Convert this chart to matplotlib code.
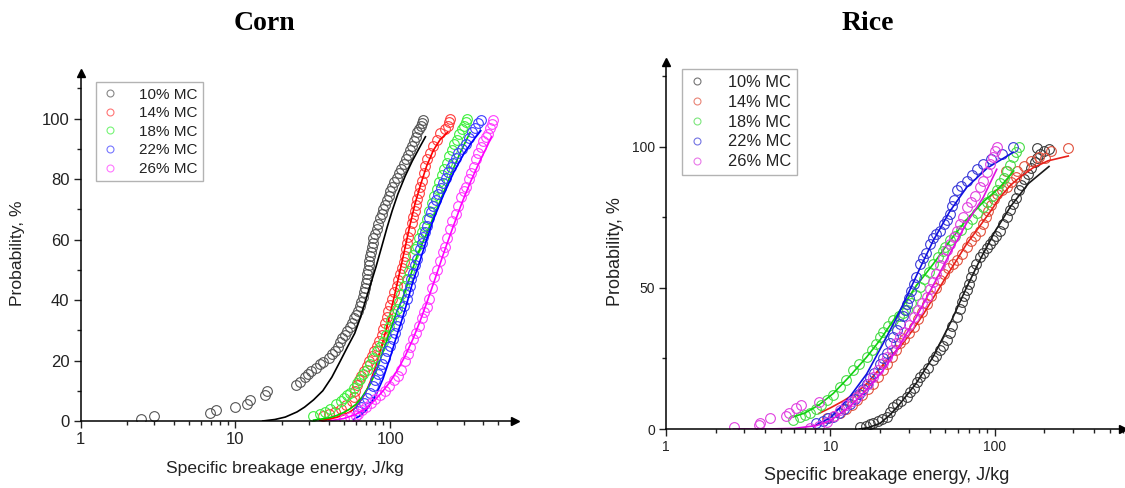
import matplotlib.pyplot as plt
from matplotlib.lines import Line2D
from matplotlib.ticker import FixedLocator, LogLocator, MultipleLocator, NullFormatter

plt.rcParams['font.family'] = ['Liberation Sans', 'DejaVu Sans']

labels = ["10% MC", "14% MC", "18% MC", "22% MC", "26% MC"]

# ---- Corn: measured points (energy J/kg, probability %) ----
corn_10 = [(2.45, 0.5), (3.0, 1.5), (6.9, 2.6), (7.5, 3.5), (10, 4.6), (11.9, 5.7), (12.5, 6.8),
           (15.5, 8.5), (16, 10), (24.5, 11.8), (26, 13), (28, 14.5), (29.5, 15.7), (31, 16.7),
           (33, 17.5), (35, 18.8), (37, 19.6), (40, 20.8), (42, 22), (44, 23.2), (46, 24.5),
           (47.5, 26), (49, 27.5), (51, 28.5), (53, 29.8), (55, 31.2), (56.5, 32.5), (58, 34),
           (60, 35), (62, 36.5), (63.5, 38), (65, 39.5), (66.5, 41), (67.5, 42.5), (68.5, 44),
           (69.5, 45.5), (70.5, 47), (71, 48.5), (72, 50), (72.5, 51.5), (73.5, 53), (74, 54.5),
           (75, 56), (76, 57.5), (77, 59), (78, 60.5), (80, 62), (82, 63.5), (84, 65), (86, 67),
           (88, 68.5), (90, 70), (92, 71.5), (95, 73), (98, 74.5), (100, 76), (103, 77.5),
           (106, 79), (110, 80.5), (114, 82), (118, 83.5), (122, 85), (126, 86.5), (130, 88),
           (134, 89.5), (138, 91), (142, 92.5), (146, 94), (150, 95.5), (154, 96.5), (158, 97.5),
           (161, 98.5), (164, 99.7)]
corn_14 = [(37, 1.5), (40, 2.2), (44, 3), (48, 4), (52, 5.2), (56.5, 6.6), (58, 8), (59.5, 10),
           (61, 12), (63, 13.5), (65, 15), (67.5, 16.5), (70.5, 18.2), (73, 20), (76, 21.5),
           (79, 23), (82, 24.8), (85, 26.5), (88, 28.5), (90.5, 30.3), (93, 32.5), (95, 34.5),
           (97, 36.5), (100, 38.5), (103, 40.5), (106, 42.5), (110, 44.6), (113, 46.5),
           (116, 48.5), (120, 50.5), (122, 52.5), (124, 54.5), (126, 57), (128, 59), (131, 61),
           (134, 63), (138, 65.5), (141, 67.5), (144, 69.5), (147, 71.5), (150, 73.5),
           (153, 75.5), (157, 77.5), (161, 79.5), (165, 82), (169, 84.5), (173, 86.5),
           (180, 88.5), (190, 91), (200, 93), (210, 95.4), (225, 96.5), (235, 97.5),
           (240, 98.8), (245, 99.8)]
corn_18 = [(31.9, 1.5), (35, 2.2), (38, 3), (41, 4), (45, 5.5), (48, 6.5), (50, 7.5), (53, 8.5),
           (55, 9.4), (58, 11), (61, 12.5), (64, 14), (67, 15.5), (70.6, 17), (74, 19), (78, 21),
           (82, 23), (86, 24.5), (90.4, 26), (94, 28.5), (98, 31), (102, 33.5), (106, 35.5),
           (110, 37), (114, 39.5), (118, 42), (122, 44.5), (128, 47), (132, 49.5), (136, 52),
           (141, 55), (145, 57), (149, 58), (154, 60.5), (160, 62.5), (166, 64.5), (172, 66.7),
           (179, 69.5), (186, 72), (193, 74.5), (200, 76.6), (208, 79), (216, 81.5), (224, 83.5),
           (232, 85.4), (240, 87.5), (250, 89.5), (260, 91.5), (269, 93), (280, 95), (292, 96.5),
           (300, 97.5), (307, 98.8), (313, 99.8)]
corn_22 = [(62.3, 3.3), (65, 4.5), (68, 6), (71, 7.5), (74, 9.4), (77, 11.5), (80, 13.5),
           (83, 15.5), (86, 17), (89, 19), (92, 21), (96, 23), (100, 24.8), (104, 27), (107, 29),
           (110, 31.4), (114, 33.5), (118, 36), (122, 38), (128, 40.2), (131, 42.5), (134, 44.5),
           (137, 47), (140.5, 49), (144, 51.5), (149, 53.5), (156, 56.8), (160, 59), (164, 61),
           (168, 62.5), (172, 64.5), (178, 67), (184, 69), (190, 71), (197, 73), (205, 75),
           (212, 77), (220, 78.8), (228, 80.5), (237, 82.5), (246, 84), (256, 85.4), (265, 87),
           (275, 88.5), (290, 90), (311, 91.7), (325, 93.5), (340, 95.5), (355, 97), (370, 98.5),
           (385, 99.7)]
corn_26 = [(50.4, 0.5), (55, 1.2), (60, 1.8), (62, 2.4), (66, 3.5), (70, 4.5), (75, 6), (80, 7.2),
           (86, 8.5), (92, 10), (98, 11.5), (106, 13.4), (112, 15), (118, 17), (125, 20),
           (130, 22), (135, 24.5), (140, 27), (147, 29), (153, 31.5), (160, 34), (166, 36),
           (172, 37.7), (178, 40.5), (185, 44), (192, 47.6), (200, 50), (210, 53), (218, 56),
           (226, 57.6), (234, 60.5), (242, 63.5), (252, 66), (265, 68.6), (275, 71), (288, 74),
           (300, 76), (311, 77.4), (322, 80), (335, 82), (347, 84), (360, 86.5), (372, 88.5),
           (385, 90.6), (400, 92.5), (415, 94), (428, 95), (440, 97), (452, 98.2), (465, 99.7)]

# ---- Corn: fitted curves ----
corn_10_fit = [(15, 0), (18, 0.5), (21, 1.3), (25, 3), (28, 4.6), (32, 7), (36.7, 10), (42, 14.5),
               (47.8, 20), (53, 24.5), (59, 29), (64, 34), (69.5, 40), (75, 45.5), (81, 51),
               (88, 57.5), (95.5, 64), (103, 69.5), (112, 75), (125, 81), (139, 86), (155, 90.5),
               (169, 94)]
corn_14_fit = [(35, 0.2), (40, 0.6), (45, 1.2), (50, 2), (55, 3), (60, 4.5), (66, 7.5), (70, 9.8),
               (74, 12.7), (80, 17.5), (86, 22.6), (95, 31), (105, 40), (115, 49), (125, 57.5),
               (134.5, 65), (145, 72), (158, 78.5), (172, 84.3), (190, 89.5), (210, 93),
               (235, 95.5)]
corn_18_fit = [(32, 0.3), (40, 1), (45, 1.8), (50, 2.8), (55, 4), (60, 5.5), (66, 8), (74, 12),
               (82, 17), (90, 23), (100, 30), (110, 36), (121, 41), (135, 48), (150, 55),
               (172, 62), (200, 70), (244, 81), (285, 89), (328, 95.4)]
corn_22_fit = [(58, 0.5), (63, 1.5), (70, 3.5), (80, 8), (90, 14), (100, 21), (110, 28), (120, 34),
               (130, 40), (140, 46), (156, 53), (172, 60), (190, 66.5), (220, 74.5), (256, 82),
               (300, 88.5), (340, 92.5), (385, 96)]
corn_26_fit = [(40, 0), (50, 0.8), (60, 2.2), (70, 4.2), (80, 7), (90, 10), (100, 13), (112, 17),
               (125, 21.5), (140, 27), (156, 33), (172, 39), (192, 46), (220, 55), (250, 63),
               (290, 72), (330, 79), (380, 86), (420, 90.5), (452, 94)]

# ---- Rice: measured points ----
rice_10 = [(15.1, 0.8), (16.5, 1.2), (17.5, 1.6), (18.2, 2), (19.5, 2.8), (20.5, 3.5), (22, 4.3),
           (23, 6), (24.1, 7.9), (25.5, 9), (27, 10), (29, 11.4), (30.5, 13), (32, 14.5),
           (33.5, 16.5), (35, 18.5), (37, 20), (39, 21.5), (42.2, 24.4), (44, 26), (46, 28),
           (48, 29.5), (50.8, 31.4), (53, 34), (55, 36.5), (58.5, 39.7), (61, 42.5), (63, 45),
           (65, 47), (67.3, 49.1), (69.5, 51.5), (71.5, 54), (73.8, 56.2), (77, 58.5), (81, 60.9),
           (85, 62.5), (89, 64), (93.3, 65.6), (97, 67), (101, 68.5), (107, 70.3), (112, 72.5),
           (118, 75), (123, 77.5), (129, 79.8), (134, 82), (139, 84.5), (143, 86.5), (150, 88.5),
           (158, 90.5), (166, 92.5), (175, 94.5), (181, 96), (188, 97.5), (181, 99.6),
           (200, 98.5), (213, 99.3)]
rice_14 = [(9.5, 3.8), (10.5, 4.5), (11.4, 5.5), (12.5, 7), (13.5, 8.5), (14.4, 10.2), (15.5, 12),
           (16.8, 14), (18.2, 16.1), (19.5, 18.5), (20.8, 21), (22, 23.2), (23.5, 25.5), (25, 28),
           (26.5, 30.3), (28, 32), (30, 34), (32, 36.1), (34, 39), (36, 41.5), (38.5, 44.4),
           (41, 47), (43.5, 50), (46.4, 52.7), (49, 55), (52, 57), (55.7, 58.5), (59, 60),
           (63, 62), (67.3, 64.4), (71, 66.5), (76, 68.5), (81, 70.3), (85, 72.5), (88, 75),
           (91, 77.4), (95, 79.5), (99, 81.5), (102.5, 83.3), (110, 84.5), (118, 85.6),
           (126, 87.5), (135, 89.2), (117, 91.4), (136, 91.4), (150, 93), (166, 95), (185, 96.5),
           (202, 96), (218, 98.5), (279, 99.4)]
rice_18 = [(5.9, 3.2), (6.5, 4.2), (7, 4.8), (7.5, 5.5), (8.2, 7), (8.8, 8.5), (9.5, 10.2),
           (10.3, 12), (11.4, 15), (12.5, 17.5), (13.8, 20.8), (15, 23), (16.6, 25.5), (18, 28),
           (19, 30), (20, 32.6), (21, 34.5), (22.5, 36.5), (24.1, 38.5), (26, 40), (27.5, 41),
           (29, 42), (31, 44.5), (33, 47.5), (35, 50.3), (37, 53), (39.5, 55.5), (42.2, 58.5),
           (45, 61), (48, 63), (50, 64.5), (53, 66.8), (57, 68.5), (62, 70.5), (67.3, 72.7),
           (72, 74.5), (78, 76.5), (84.8, 78.5), (90, 80.5), (96, 82.5), (102.5, 84.5),
           (108, 87), (113, 89), (118, 91.5), (123, 93.5), (129, 96.2), (134, 98), (139, 99.8)]
rice_22 = [(8.2, 2), (9, 3), (9.7, 3.8), (10.4, 4.3), (11.2, 5.5), (12, 7), (13.1, 9), (14, 10.5),
           (15, 12.5), (15.8, 14), (16.6, 16.1), (17.5, 18), (18.5, 20), (20, 23.2), (21, 25),
           (22, 27), (23, 30.3), (24, 32.5), (25.2, 35), (26.5, 37.3), (27.5, 40), (28.3, 42),
           (29, 44.4), (30, 46.5), (31, 49), (32, 51.5), (33, 54), (35, 58.5), (36.5, 60.5),
           (38, 62.5), (40, 65.6), (42, 67.5), (44, 69), (46.4, 70.3), (49, 72.5), (51, 74),
           (53, 76.2), (55, 79), (56.5, 81), (58.5, 84.5), (62, 86), (67.3, 88), (72, 90),
           (78, 92), (84.8, 93.9), (95, 95.5), (110, 97.5), (129, 99.8)]
rice_26 = [(2.6, 0.6), (3.7, 1.4), (3.75, 2), (4.3, 3.8), (5.4, 4.7), (5.6, 5.5), (6.2, 7.3),
           (6.6, 8.5), (8.5, 9.6), (7.5, 0.5), (8.5, 1.2), (9.5, 2.5), (10.5, 4.5), (11.4, 6.7),
           (12.5, 8.5), (13.5, 10), (14.4, 11.4), (15.5, 13.5), (16.8, 16), (18.2, 18.5),
           (19.5, 21), (20.8, 23.5), (22, 25.5), (23.5, 28), (25, 30.5), (26.5, 32.6), (28, 34.5),
           (30, 37), (32, 39.7), (34, 42), (36, 44.5), (38.5, 46.7), (40, 49.5), (42, 52),
           (44, 55), (46, 58), (48, 60.5), (50.8, 63.3), (53, 65.5), (56, 68), (58.5, 70.3),
           (61, 72.5), (64, 75), (67.3, 78.5), (71, 80.5), (76, 82.5), (81, 85.6), (85, 88),
           (89, 91), (93.3, 93.9), (97, 96.5), (100, 98.5), (102.5, 99.8)]

# ---- Rice: fitted curves ----
rice_10_fit = [(15, 0), (17, 0.5), (20, 2), (23, 5), (26.5, 9), (33, 16), (42, 25.5), (54, 38),
               (67, 50), (82, 60.5), (100, 70), (125, 79), (160, 87), (213, 93)]
rice_14_fit = [(8.5, 5.5), (10, 7.5), (12, 10), (14.5, 13), (16.6, 16.1), (20, 21.5), (23, 25.5),
               (26.5, 29), (32, 35.5), (37, 41), (42.2, 46.5), (50, 53.5), (58, 59.5),
               (67.3, 65.6), (80, 71.5), (95, 77.5), (107, 82), (125, 86.5), (142, 89.2),
               (170, 92.5), (210, 95), (279, 96.7)]
rice_18_fit = [(5.95, 4.3), (7, 5.7), (8.5, 8.5), (10.4, 12.6), (13, 18.5), (16.6, 25.5),
               (20, 31.5), (26.5, 42), (33, 50.5), (42.2, 58.5), (53, 66.5), (67.3, 74.2),
               (85, 80.5), (107, 85.6), (130, 91.4)]
rice_22_fit = [(8.2, 1.5), (10, 4), (13.1, 11.4), (16.6, 19.5), (20.9, 30.3), (25, 39), (29, 46.7),
               (35, 57), (42.2, 66.8), (53, 77), (67.3, 85.6), (90, 92.5), (129, 98)]
rice_26_fit = [(2.57, 0), (4, 0), (6, 0.2), (8.2, 1.2), (10, 3), (13.1, 7.9), (16.6, 14),
               (20.9, 20.8), (26.5, 30), (33.3, 39.7), (42.2, 51), (53, 62), (67.3, 73),
               (84.8, 82), (102.5, 92)]

corn_pts = [corn_10, corn_14, corn_18, corn_22, corn_26]
corn_fits = [corn_10_fit, corn_14_fit, corn_18_fit, corn_22_fit, corn_26_fit]
rice_pts = [rice_10, rice_14, rice_18, rice_22, rice_26]
rice_fits = [rice_10_fit, rice_14_fit, rice_18_fit, rice_22_fit, rice_26_fit]

corn_mk = ['#555555', '#ff3b3b', '#3cf03c', '#3c3cff', '#ff3cff']
corn_ln = ['#000000', '#ff0000', '#00d000', '#0000ff', '#ff00ff']
rice_mk = ['#3a3a3a', '#e0503c', '#46dc46', '#3838d8', '#e040e0']
rice_ln = ['#1a1a1a', '#e8201a', '#10d010', '#1010e0', '#e010e0']


def draw_panel(ax, pts, fits, mk, ln, xmax, ymax, ymajor, yminor, tick_size, leg_anchor,
               leg_size, leg_spacing):
    for p, f, mc, lc in zip(pts, fits, mk, ln):
        ax.plot([a for a, b in p], [b for a, b in p], 'o', mfc='none', mec=mc, ms=7, mew=0.8)
        ax.plot([a for a, b in f], [b for a, b in f], '-', color=lc, lw=1.2)

    ax.set_xscale('log')
    ax.set_xlim(1, xmax)
    ax.set_ylim(0, ymax)
    ax.xaxis.set_major_locator(FixedLocator([1, 10, 100]))
    ax.set_xticklabels(['1', '10', '100'])
    ax.xaxis.set_minor_locator(LogLocator(subs=range(2, 10)))
    ax.xaxis.set_minor_formatter(NullFormatter())
    ax.yaxis.set_major_locator(MultipleLocator(ymajor))
    ax.yaxis.set_minor_locator(MultipleLocator(yminor))
    ax.tick_params(which='major', direction='out', length=5, width=1, labelsize=tick_size,
                   colors='#222222', pad=3)
    ax.tick_params(which='minor', direction='out', length=3, width=1, colors='#222222')

    for s in ['top', 'right']:
        ax.spines[s].set_visible(False)
    for s in ['left', 'bottom']:
        ax.spines[s].set_linewidth(1.1)
    # axis arrows
    ax.plot(1, 0, '>', ms=6, color='k', transform=ax.transAxes, clip_on=False)
    ax.plot(0, 1, '^', ms=6, color='k', transform=ax.transAxes, clip_on=False)

    handles = [Line2D([], [], ls='none', marker='o', mfc='none', mec=c, ms=5, mew=0.8, alpha=0.7)
               for c in mk]
    leg = ax.legend(handles, labels, loc='upper left', bbox_to_anchor=leg_anchor,
                    bbox_transform=ax.figure.transFigure, fancybox=False, edgecolor='#a0a0a0',
                    fontsize=leg_size, handlelength=1.2, handletextpad=1.3,
                    labelspacing=leg_spacing, borderpad=0.35, borderaxespad=0)
    leg.get_frame().set_linewidth(1.0)
    for t in leg.get_texts():
        t.set_color('#222222')


fig = plt.figure(figsize=(11.25, 4.88), dpi=100)
ax1 = fig.add_axes([0.0717, 0.1373, 0.3861, 0.7125])
ax2 = fig.add_axes([0.592, 0.1209, 0.4062, 0.752])

draw_panel(ax1, corn_pts, corn_fits, corn_mk, corn_ln, 641, 115, 20, 10, 12,
           (0.0851, 0.8314), 11, 0.3)
draw_panel(ax2, rice_pts, rice_fits, rice_mk, rice_ln, 600, 130, 50, 25, 10,
           (0.606, 0.8586), 11.8, 0.3)

fig.text(264 / 1125, 1 - 24 / 488, 'Corn', ha='center', va='center',
         family='Liberation Serif', weight='bold', fontsize=20)
fig.text(868 / 1125, 1 - 24 / 488, 'Rice', ha='center', va='center',
         family='Liberation Serif', weight='bold', fontsize=20)

fig.text(285 / 1125, 1 - 469 / 488, 'Specific breakage energy, J/kg', ha='center', va='center',
         fontsize=12.6, color='#222222')
fig.text(887 / 1125, 1 - 475 / 488, 'Specific breakage energy, J/kg', ha='center', va='center',
         fontsize=13, color='#222222')
fig.text(18 / 1125, 1 - 253 / 488, 'Probability, %', ha='center', va='center', rotation=90,
         fontsize=12.6, color='#222222')
fig.text(616 / 1125, 1 - 252 / 488, 'Probability, %', ha='center', va='center', rotation=90,
         fontsize=13, color='#222222')

fig.savefig('out.png', dpi=100)
